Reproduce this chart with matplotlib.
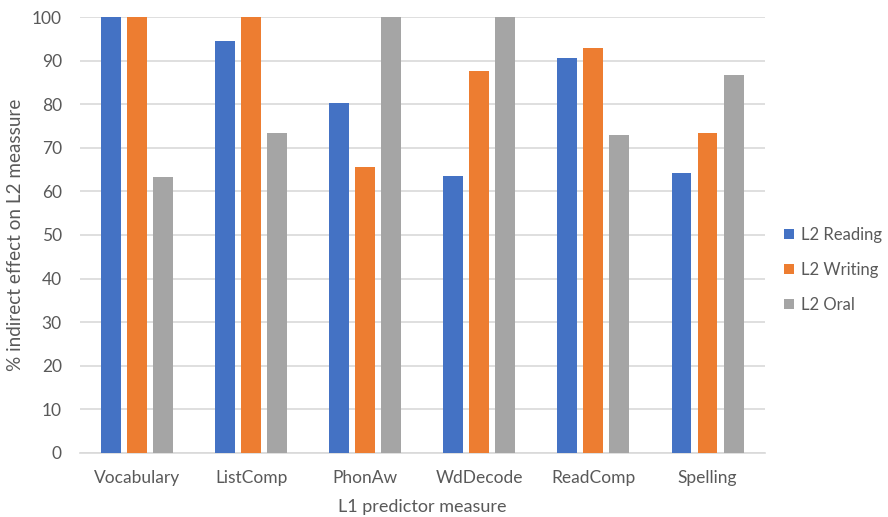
import matplotlib.pyplot as plt
import numpy as np

plt.rcParams['font.family'] = ['Lato', 'DejaVu Sans']

# L1 predictors and % indirect effect on each L2 outcome
measures = ['Vocabulary', 'ListComp', 'PhonAw', 'WdDecode', 'ReadComp', 'Spelling']
reading = [100, 94.4, 80.3, 63.5, 90.5, 64.3]
writing = [100, 100, 65.5, 87.6, 93.0, 73.3]
oral = [63.2, 73.5, 100, 100, 72.9, 86.7]

series = [('L2 Reading', reading, '#4472C4'),
          ('L2 Writing', writing, '#ED7D31'),
          ('L2 Oral', oral, '#A5A5A5')]

TXT = '#595959'

fig = plt.figure(figsize=(8.88, 5.17), dpi=100)
ax = fig.add_axes([0.090, 0.124, 0.771, 0.843])

x = np.arange(len(measures))
step = 0.228
for i, (name, vals, col) in enumerate(series):
    ax.bar(x + (i - 1) * step, vals, width=0.175, color=col, label=name, zorder=3)

ax.set_xlim(-0.5, len(measures) - 0.5)
ax.set_ylim(0, 100)
ax.set_yticks(range(0, 101, 10))
ax.set_xticks(x)
ax.set_xticklabels(measures)
ax.grid(axis='y', color='#d9d9d9', linewidth=1.2, zorder=0)
ax.tick_params(length=0, labelsize=12.5, colors=TXT)
ax.tick_params(axis='y', pad=13)
ax.tick_params(axis='x', pad=12)
for s in ['top', 'right', 'left']:
    ax.spines[s].set_visible(False)
ax.spines['bottom'].set_color('#d9d9d9')
ax.spines['bottom'].set_linewidth(1.2)

ax.set_xlabel('L1 predictor measure', fontsize=13, color=TXT, labelpad=10)
ax.set_ylabel('% indirect effect on L2 meassure', fontsize=13.6, color=TXT)
ax.yaxis.set_label_coords(-0.081, 0.5)

leg = ax.legend(loc='center left', bbox_to_anchor=(1.006, 0.42), frameon=False,
                fontsize=12, handlelength=0.6, handleheight=0.6,
                handletextpad=0.45, labelspacing=1.15, labelcolor=TXT)

fig.savefig('out.png', dpi=100)
